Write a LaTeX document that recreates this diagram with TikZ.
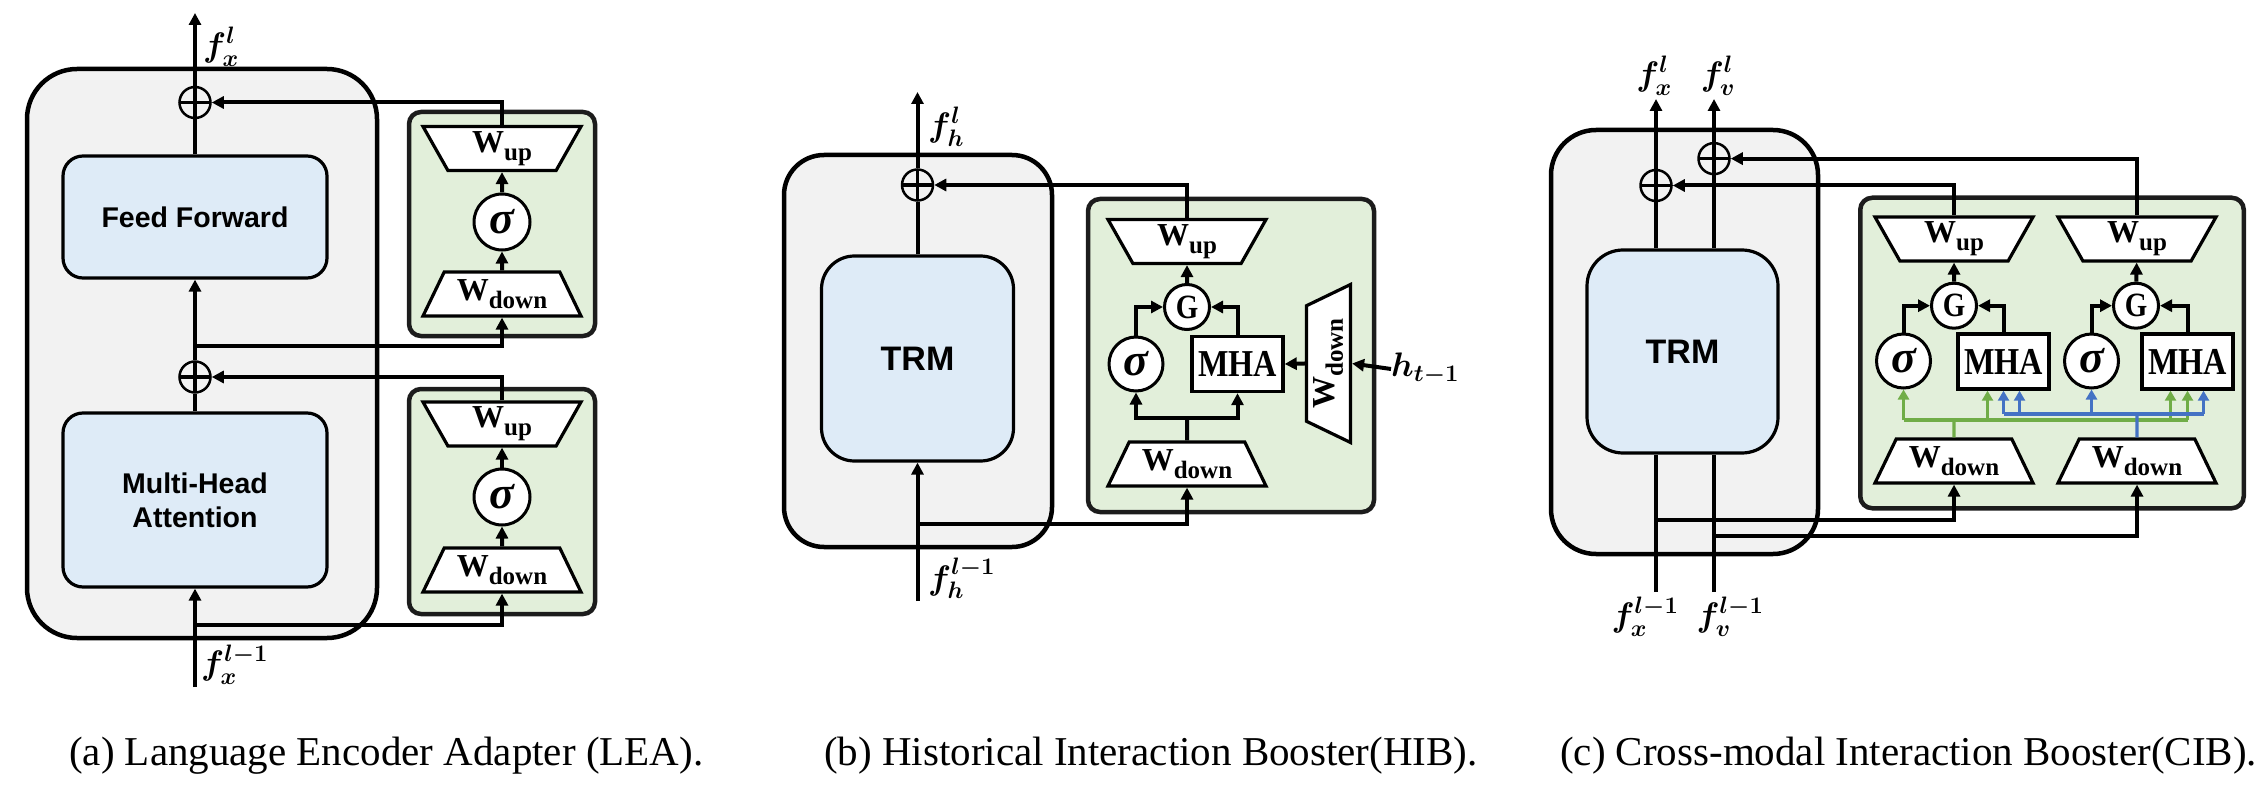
\RequirePackage{fix-cm}
\documentclass[tikz,border=0pt]{standalone}
\usepackage{amsmath}
\usepackage{fontspec}
\usepackage{xcolor}
\usepackage{tikz}
\usetikzlibrary{positioning}
\usetikzlibrary{shapes.geometric, arrows.meta}
\setmainfont{Liberation Serif}
\newfontfamily\blocksans{Liberation Sans}
\newfontfamily\narrowserif[FakeStretch=0.85]{Liberation Serif}

\definecolor{grayfill}{HTML}{F2F2F2}
\definecolor{bluefill}{HTML}{DEEBF7}
\definecolor{greenfill}{HTML}{E2EFDA}
\definecolor{greenedge}{HTML}{1C1C1C}
\definecolor{xgreen}{HTML}{70AD47}
\definecolor{vblue}{HTML}{4472C4}

\newcommand{\wsub}[1]{{\fontsize{32}{34}\selectfont\bfseries W\raisebox{-8pt}{\fontsize{25}{26}\selectfont #1}}}
\newcommand{\flab}[1]{{\fontsize{34}{38}\selectfont\mathversion{bold}$#1$}}
\newcommand{\sig}{{\fontsize{46}{48}\selectfont\bfseries\itshape σ}}

\tikzstyle{thickline} = [line width=4pt]
\tikzstyle{arrow} = [line width=4pt,-{Triangle[length=12pt,width=12pt]}]
\tikzstyle{greenline} = [line width=3.3pt,draw=xgreen]
\tikzstyle{greenarrow} = [greenline,-{Triangle[length=10pt,width=11pt]}]
\tikzstyle{blueline} = [line width=3.3pt,draw=vblue]
\tikzstyle{bluearrow} = [blueline,-{Triangle[length=10pt,width=11pt]}]
\tikzstyle{outerbox} = [draw,line width=4.5pt,fill=grayfill,inner sep=0pt]
\tikzstyle{blockbox} = [draw,line width=3.2pt,fill=bluefill,inner sep=0pt,font={\blocksans\bfseries\fontsize{28.5}{34}\selectfont}]
\tikzstyle{adapter} = [draw=greenedge,line width=4.5pt,fill=greenfill,rounded corners=12pt,inner sep=0pt]
\tikzstyle{wdown} = [trapezium,draw,fill=white,line width=3.2pt,trapezium angle=54,trapezium stretches body,minimum width=158pt,minimum height=44pt,inner sep=0pt]
\tikzstyle{wup} = [wdown,shape border rotate=180]
\tikzstyle{gate} = [circle,draw,fill=white,line width=3pt,inner sep=0pt,minimum size=54pt]
\tikzstyle{gsym} = [circle,draw,fill=white,line width=3pt,inner sep=0pt,minimum size=45pt,font={\narrowserif\bfseries\fontsize{34}{36}\selectfont}]
\tikzstyle{attn} = [draw,fill=white,line width=3.4pt,inner sep=0pt,minimum width=91pt,minimum height=55pt,font={\narrowserif\bfseries\fontsize{38}{40}\selectfont}]
\tikzstyle{oplus} = [circle,draw,line width=2.5pt,minimum size=31pt,inner sep=0pt,
  path picture={\draw[line width=3.5pt] (path picture bounding box.north) -- (path picture bounding box.south)
    (path picture bounding box.west) -- (path picture bounding box.east);}]
\tikzstyle{flabel} = [inner sep=0pt]
\tikzstyle{caption} = [inner sep=0pt,font={\fontsize{41}{48}\selectfont}]

\begin{document}
\begin{tikzpicture}[x=1pt,y=-1pt]
\useasboundingbox (0,0) rectangle (2267,786);

%Nodes (a)
\node[outerbox,rounded corners=50pt,minimum width=350pt,minimum height=569pt] (leaBox) at (202,353.5) {};
\node[blockbox,rounded corners=20pt,minimum width=264pt,minimum height=122pt] (ffn) at (195,217) {Feed Forward};
\node[blockbox,rounded corners=20pt,minimum width=264pt,minimum height=174pt,align=center] (mhsa) at (195,500) {Multi-Head\\Attention};
\node[oplus] (addA1) at (195,102.5) {};
\node[oplus] (addA2) at (195,377) {};
\coordinate (outA) at (195,13);
\coordinate (inA) at (195,687);
\coordinate (tapA1) at (195,346);
\coordinate (tapA2) at (195,625);
\node[adapter,minimum width=186pt,minimum height=224pt] (adpA1) at (502,224) {};
\node[adapter,minimum width=186pt,minimum height=225pt] (adpA2) at (502,501.5) {};
\node[wup] (upA1) at (502,148.5) {\wsub{up}};
\node[gate,minimum size=56pt] (actA1) at (502,222) {\sig};
\node[wdown] (downA1) at (502,294) {\wsub{down}};
\node[wup] (upA2) at (502,424) {\wsub{up}};
\node[gate,minimum size=56pt] (actA2) at (502,497) {\sig};
\node[wdown] (downA2) at (502,570) {\wsub{down}};
\node[flabel,anchor=west] (fxOutA) at (203,47) {\flab{f_x^{l}}};
\node[flabel,anchor=west] (fxInA) at (201,665) {\flab{f_x^{l-1}}};

%Lines (a)
\draw[arrow] (inA) -- (mhsa.south);
\draw[thickline] (mhsa.north) -- (addA2);
\draw[arrow] (addA2) -- (ffn.south);
\draw[thickline] (ffn.north) -- (addA1);
\draw[arrow] (addA1) -- (outA);
\draw[arrow] (tapA1) -| (downA1.south);
\draw[arrow] (tapA2) -| (downA2.south);
\draw[arrow] (downA1) -- (actA1);
\draw[arrow] (actA1) -- (upA1);
\draw[arrow] (downA2) -- (actA2);
\draw[arrow] (actA2) -- (upA2);
\draw[arrow] (upA1.north) |- (addA1.east);
\draw[arrow] (upA2.north) |- (addA2.east);

%Nodes (b)
\node[outerbox,rounded corners=40pt,minimum width=268pt,minimum height=392pt] (hibBox) at (918,351) {};
\node[blockbox,rounded corners=33pt,minimum width=192pt,minimum height=205pt,font={\blocksans\bfseries\fontsize{34}{36}\selectfont}] (trmB) at (917.5,358.5) {TRM};
\node[oplus] (addB) at (917.5,185) {};
\coordinate (outB) at (917.5,92);
\coordinate (inB) at (917.5,601);
\coordinate (tapB) at (917.5,524);
\node[adapter,minimum width=286pt,minimum height=313pt] (adpB) at (1231,355.5) {};
\node[wup] (upB) at (1187,241.5) {\wsub{up}};
\node[gsym] (gateB) at (1187,307) {G};
\node[gate] (actB) at (1136,364) {\sig};
\node[attn] (mhaB) at (1237.5,364) {MHA};
\node[wdown,rotate=90] (histDown) at (1328.5,363.5) {\wsub{down}};
\node[wdown] (downB) at (1187,464) {\wsub{down}};
\coordinate (splitB) at (1187,418);
\node[flabel,anchor=west] (hPrev) at (1391,369) {\flab{h_{t-1}}};
\node[flabel,anchor=west] (fhOut) at (928,127) {\flab{f_h^{l}}};
\node[flabel,anchor=west] (fhIn) at (928,578) {\flab{f_h^{l-1}}};

%Lines (b)
\draw[arrow] (inB) -- (trmB.south);
\draw[thickline] (trmB.north) -- (addB);
\draw[arrow] (addB) -- (outB);
\draw[arrow] (tapB) -| (downB.south);
\draw[thickline] (downB.north) -- (splitB);
\draw[arrow] (splitB) -| (actB.south);
\draw[arrow] (splitB) -| (mhaB.south);
\draw[arrow] (actB.north) |- (gateB.west);
\draw[arrow] (mhaB.north) |- (gateB.east);
\draw[arrow] (gateB) -- (upB);
\draw[arrow] (upB.north) |- (addB.east);
\draw[arrow] (hPrev.west) -- (histDown.south);
\draw[arrow] (histDown.north) -- (mhaB.east);

%Nodes (c)
\node[outerbox,rounded corners=45pt,minimum width=267pt,minimum height=424pt] (cibBox) at (1684.5,342) {};
\node[blockbox,rounded corners=36pt,minimum width=191pt,minimum height=203pt,font={\blocksans\bfseries\fontsize{34}{36}\selectfont}] (trmC) at (1682.5,351.5) {TRM};
\node[oplus] (addX) at (1656,185.5) {};
\node[oplus] (addV) at (1714,158.6) {};
\coordinate (outX) at (1656,99);
\coordinate (outV) at (1714,99);
\coordinate (inX) at (1656,592);
\coordinate (inV) at (1714,592);
\coordinate (tapX) at (1656,520);
\coordinate (tapV) at (1714,536);
\node[adapter,minimum width=383.5pt,minimum height=310.5pt] (adpC) at (2052,353) {};
\node[wup] (upX) at (1954,239) {\wsub{up}};
\node[wup] (upV) at (2137,239) {\wsub{up}};
\node[gsym] (gateX) at (1954,305.7) {G};
\node[gsym] (gateV) at (2136,305.7) {G};
\node[gate] (actX) at (1903.5,361) {\sig};
\node[gate] (actV) at (2091.5,361) {\sig};
\node[attn] (mhaX) at (2003.5,361.5) {MHA};
\node[attn] (mhaV) at (2187.5,361.5) {MHA};
\node[wdown] (downX) at (1954,461) {\wsub{down}};
\node[wdown] (downV) at (2137,461) {\wsub{down}};
\coordinate (gbus) at (1954,420);
\coordinate (bbus) at (2137,414);
\coordinate (qX1) at ([xshift=-16pt]mhaX.south);
\coordinate (qX2) at (mhaX.south);
\coordinate (qX3) at ([xshift=16pt]mhaX.south);
\coordinate (qV1) at ([xshift=-17pt]mhaV.south);
\coordinate (qV2) at (mhaV.south);
\coordinate (qV3) at ([xshift=16pt]mhaV.south);
\node[flabel,anchor=south] (fxOutC) at (1654,96) {\flab{f_x^{l}}};
\node[flabel,anchor=south] (fvOutC) at (1718,96) {\flab{f_v^{l}}};
\node[flabel,anchor=north] (fxInC) at (1645,597) {\flab{f_x^{l-1}}};
\node[flabel,anchor=north] (fvInC) at (1730,597) {\flab{f_v^{l-1}}};

%Lines (c)
\draw[thickline] (addX |- trmC.north) -- (addX);
\draw[arrow] (addX) -- (outX);
\draw[thickline] (addV |- trmC.north) -- (addV);
\draw[arrow] (addV) -- (outV);
\draw[thickline] (inX) -- (inX |- trmC.south);
\draw[thickline] (inV) -- (inV |- trmC.south);
\draw[arrow] (tapX) -| (downX.south);
\draw[arrow] (tapV) -| (downV.south);
\draw[arrow] (upX.north) |- (addX.east);
\draw[arrow] (upV.north) |- (addV.east);
\draw[arrow] (gateX) -- (upX);
\draw[arrow] (gateV) -- (upV);
\draw[arrow] (actX.north) |- (gateX.west);
\draw[arrow] (mhaX.north) |- (gateX.east);
\draw[arrow] (actV.north) |- (gateV.west);
\draw[arrow] (mhaV.north) |- (gateV.east);
\draw[greenline] (downX.north) -- (gbus);
\draw[greenline] (actX.south |- gbus) -- (qV2 |- gbus);
\draw[greenarrow] (actX.south |- gbus) -- (actX.south);
\draw[greenarrow] (qX1 |- gbus) -- (qX1);
\draw[greenarrow] (qV1 |- gbus) -- (qV1);
\draw[greenarrow] (qV2 |- gbus) -- (qV2);
\draw[blueline] (downV.north) -- (bbus);
\draw[blueline] (qX2 |- bbus) -- (qV3 |- bbus);
\draw[bluearrow] (qX2 |- bbus) -- (qX2);
\draw[bluearrow] (qX3 |- bbus) -- (qX3);
\draw[bluearrow] (actV.south |- bbus) -- (actV.south);
\draw[bluearrow] (qV3 |- bbus) -- (qV3);

%Captions
\node[caption,anchor=base west] (capA) at (69,765) {(a) Language Encoder Adapter (LEA).};
\node[caption,anchor=base west] (capB) at (824,765) {(b) Historical Interaction Booster(HIB).};
\node[caption,anchor=base west] (capC) at (1560,765) {(c) Cross-modal Interaction Booster(CIB).};
\end{tikzpicture}
\end{document}
